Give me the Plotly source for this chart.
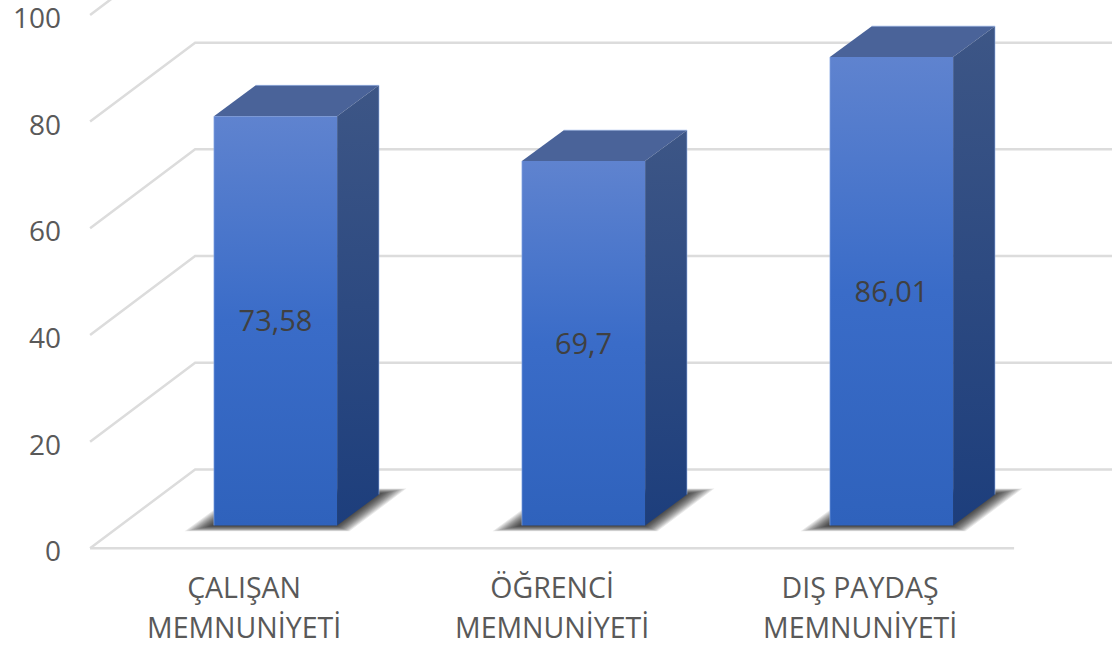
import plotly.graph_objects as go

categories = ["ÇALIŞAN", "ÖĞRENCİ", "DIŞ PAYDAŞ"]
category_line2 = ["MEMNUNİYETİ", "MEMNUNİYETİ", "MEMNUNİYETİ"]
bar_heights = [76.7, 68.3, 87.8]          # height as drawn, read on the axis
value_labels = ["73,58", "69,7", "86,01"]
y_ticks = [0, 20, 40, 60, 80, 100]

# oblique projection, in axis units
WALL_DX, WALL_DY = 0.341, 14.8
BAR_DX, BAR_DY = 0.136, 5.8
BAR_W = 0.4
BASE_Y = 4.3
X0, X1 = -0.602, 2.398
LABEL_SHIFT = -0.102
TEXT_DY = 0.6
GRID = "#dcdcdc"
EDGE = "rgba(150,180,235,0.6)"

fig = go.Figure()


def poly(xs, ys, **kw):
    fig.add_trace(go.Scatter(x=xs + xs[:1], y=ys + ys[:1], mode="lines", fill="toself",
                             hoverinfo="skip", showlegend=False, **kw))


def line(xs, ys, color=GRID, width=2.5):
    fig.add_trace(go.Scatter(x=xs, y=ys, mode="lines", line=dict(color=color, width=width),
                             hoverinfo="skip", showlegend=False, cliponaxis=False))


for t in y_ticks:
    line([X0, X0 + WALL_DX, 3.4], [t, t + WALL_DY, t + WALL_DY])
line([X0, X1], [0, 0])

for i, h in enumerate(bar_heights):
    l, r = i - BAR_W / 2, i + BAR_W / 2
    top = BASE_Y + h
    # soft shadow on the floor
    sx = [l - 0.095, r + 0.04, r + 0.225, l + 0.095]
    sy = [BASE_Y - 1.1, BASE_Y - 1.1, BASE_Y + 6.9, BASE_Y + 6.9]
    cx, cy = sum(sx) / 4, sum(sy) / 4
    for k in range(16):
        f = 1.0 - 0.02 * k
        poly([cx + (a - cx) * f for a in sx], [cy + (b - cy) * f for b in sy],
             line=dict(width=0), fillcolor="rgba(0,0,0,0.09)")
    # top face
    poly([l, r, r + BAR_DX, l + BAR_DX], [top, top, top + BAR_DY, top + BAR_DY],
         line=dict(width=0), fillcolor="#4a6399")
    # side face
    poly([r, r + BAR_DX, r + BAR_DX, r], [BASE_Y, BASE_Y + BAR_DY, top + BAR_DY, top],
         line=dict(width=0), fillgradient=dict(type="vertical", start=BASE_Y, stop=top + BAR_DY,
              colorscale=[[0, "#1d3e7c"], [1, "#3d5686"]]))
    # front face
    poly([l, r, r, l], [BASE_Y, BASE_Y, top, top],
         line=dict(width=0), fillgradient=dict(type="vertical", start=BASE_Y, stop=top,
              colorscale=[[0, "#2f62bc"], [0.5, "#3a6cc8"], [1, "#5f83cf"]]))
    # pale outer edges
    line([l, l], [BASE_Y, top], EDGE, 1)
    line([r + BAR_DX, r + BAR_DX, l + BAR_DX], [BASE_Y + BAR_DY, top + BAR_DY, top + BAR_DY], EDGE, 1)

fig.add_trace(go.Scatter(
    x=list(range(3)), y=[BASE_Y + h / 2 - TEXT_DY for h in bar_heights], mode="text",
    text=value_labels, textposition="middle center",
    textfont=dict(family="Open Sans", size=29, color="#404040"),
    hoverinfo="skip", showlegend=False))

tick_text = [f'<span style="font-size:28.5px">{a}<br>{b}</span>' for a, b in zip(categories, category_line2)]

fig.update_layout(
    width=1112, height=645, margin=dict(l=64, r=0, t=0, b=86.34),
    paper_bgcolor="white", plot_bgcolor="white", showlegend=False,
    xaxis=dict(range=[-0.6867, 2.7159], tickvals=[i + LABEL_SHIFT for i in range(3)], ticktext=tick_text,
               showgrid=False, zeroline=False, showline=False, ticks="", automargin=False,
               ticklabelstandoff=7, ticklabeloverflow="allow",
               tickfont=dict(family="Open Sans", size=31, color="#595959")),
    yaxis=dict(range=[-2, 102.8], tickvals=[t - TEXT_DY for t in y_ticks], ticktext=[str(t) for t in y_ticks],
               showgrid=False, zeroline=False, automargin=False,
               showline=False, ticks="", ticklabelstandoff=2, ticklabeloverflow="allow",
               tickfont=dict(family="Open Sans", size=28, color="#595959")),
)
fig.write_html("out.html", config={"displayModeBar": False},
               post_script="document.body.style.margin='0';document.documentElement.style.overflow='hidden';")
